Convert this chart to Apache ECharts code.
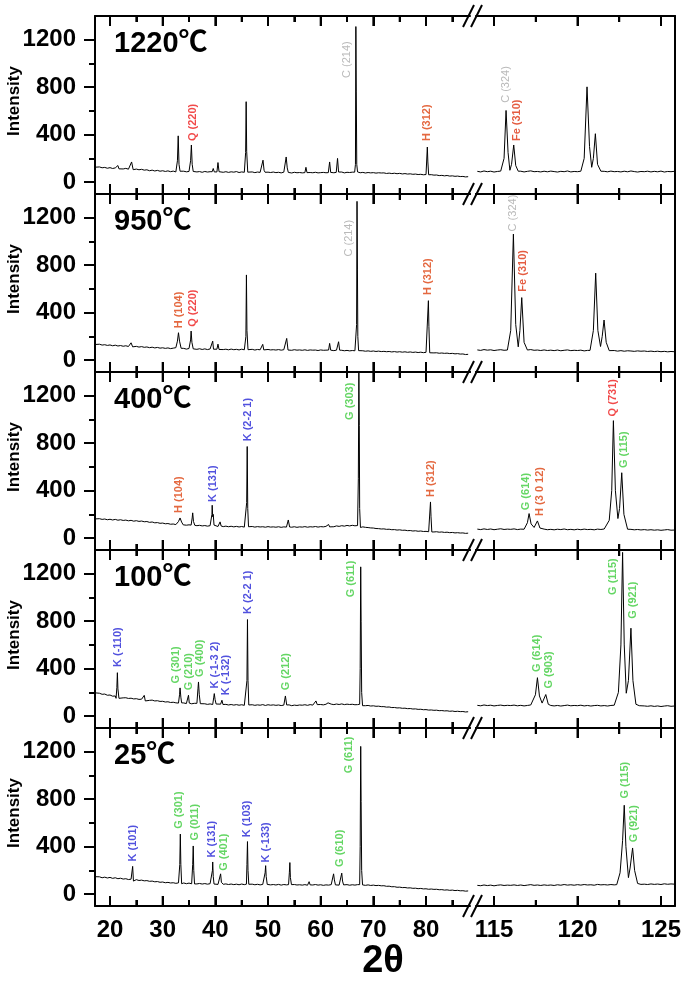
<!DOCTYPE html>
<html><head><meta charset="utf-8">
<script src="https://cdn.jsdelivr.net/npm/echarts@6/dist/echarts.min.js"></script>
<style>html,body{margin:0;padding:0;background:#fff}#c{width:685px;height:981px}</style>
</head><body><div id="c"></div>
<script>
// ---------- axis ticks ----------
const panelTitles = ['1220℃','950℃','400℃','100℃','25℃'];
const xLeftTicks = [20,30,40,50,60,70,80];
const xLeftMinor = [25,35,45,55,65,75,85];
const xRightTicks = [115,120,125];
const xRightMinor = [117.5,122.5];
const yTicks = [0,400,800,1200];
const yMinor = [200,600,1000];

// ---------- sampling positions (2θ) of the background scans ----------
const leftX = [17.2,17.5,18,18.5,19,19.5,20,20.5,21,21.5,
22,22.5,23,23.5,24,24.5,25,25.5,26,26.5,
27,27.5,28,28.5,29,29.5,30,30.5,31,31.5,
32,32.5,33,33.5,34,34.5,35,35.5,36,36.5,
37,37.5,38,38.5,39,39.5,40,40.5,41,41.5,
42,42.5,43,43.5,44,44.5,45,45.5,46,46.5,
47,47.5,48,48.5,49,49.5,50,50.5,51,51.5,
52,52.5,53,53.5,54,54.5,55,55.5,56,56.5,
57,57.5,58,58.5,59,59.5,60,60.5,61,61.5,
62,62.5,63,63.5,64,64.5,65,65.5,66,66.5,
67,67.5,68,68.5,69,69.5,70,70.5,71,71.5,
72,72.5,73,73.5,74,74.5,75,75.5,76,76.5,
77,77.5,78,78.5,79,79.5,80,80.5,81,81.5,
82,82.5,83,83.5,84,84.5,85,85.5,86,86.5,
87,87.5,88];
const rightX = [114,114.2,114.4,114.6,114.8,115,115.2,115.4,115.6,115.8,
116,116.2,116.4,116.6,116.8,117,117.2,117.4,117.6,117.8,
118,118.2,118.4,118.6,118.8,119,119.2,119.4,119.6,119.8,
120,120.2,120.4,120.6,120.8,121,121.2,121.4,121.6,121.8,
122,122.2,122.4,122.6,122.8,123,123.2,123.4,123.6,123.8,
124,124.2,124.4,124.6,124.8,125,125.2,125.4,125.6,125.8];

// ---------- 1220 ℃ ----------
const base1220L = [126,119,128,121,124,117,122,115,120,113,
118,111,116,109,113,106,110,104,108,101,
104,96,101,94,99,92,96,90,95,88,
93,86,91,85,92,87,90,84,91,86,
89,83,90,85,88,82,89,84,87,83,
88,82,87,84,89,81,86,83,87,82,
86,80,85,82,87,79,84,81,85,80,
83,78,84,80,82,77,83,79,81,78,
82,77,81,79,83,78,80,82,79,81,
84,79,82,80,85,78,83,81,84,80,
83,79,82,77,81,78,80,76,79,77,
78,73,76,72,75,71,74,69,72,68,
70,66,68,64,66,62,64,60,63,59,
60,55,57,53,56,51,53,49,51,47,
48,44,46];
const base1220R = [91,86,94,88,92,85,90,93,87,91,
89,94,87,92,86,91,95,88,90,86,
92,87,93,89,85,91,88,94,86,90,
88,93,87,90,86,92,89,85,91,87,
93,88,90,86,92,87,94,89,85,90,
88,92,86,91,87,93,85,90,88,91];
const peaks1220L = [
 [[21.3,118],[21.5,140],[21.7,112]],
 [[23.8,110],[24.1,170],[24.4,105]],
 [[32.6,95],[32.8,180],[32.95,390],[33.1,150],[33.3,92]],
 [[35.1,92],[35.3,180],[35.45,313],[35.6,150],[35.8,90]],
 [[39.4,88],[39.6,115],[39.8,86]],
 [[40.3,86],[40.5,165],[40.7,88]],
 [[45.55,86],[45.75,250],[45.85,678],[45.95,260],[46.15,84]],
 [[48.85,85],[49.05,185],[49.25,100],[49.45,83]],
 [[53.2,84],[53.45,212],[53.65,120],[53.85,82]],
 [[57.0,80],[57.2,125],[57.4,80]],
 [[61.45,80],[61.7,170],[61.9,82]],
 [[62.95,82],[63.2,200],[63.4,85]],
 [[66.45,84],[66.6,150],[66.68,1311],[66.76,760],[66.85,150],[67.0,86]],
 [[80.1,66],[80.25,296],[80.35,170],[80.5,62]]];
const peaks1220R = [
 [[115.45,92],[115.6,200],[115.72,604],[115.84,250],[115.95,100],[116.05,150],[116.18,313],[116.3,140],[116.45,92]],
 [[120.2,92],[120.4,200],[120.57,803],[120.72,300],[120.85,125],[120.95,200],[121.07,408],[121.2,150],[121.4,92]]];
const labels1220 = [[35.7,346,'Q (220)'],[64.9,878,'C (214)'],[80.2,346,'H (312)'],[115.7,668,'C (324)'],[116.36,346,'Fe (310)']];

// ---------- 950 ℃ ----------
const base950L = [132,126,134,127,130,124,128,121,126,119,
123,117,121,115,119,112,116,110,114,108,
111,105,109,103,107,101,104,99,103,97,
101,96,100,94,99,93,98,92,97,91,
96,90,95,89,94,91,93,88,94,89,
92,87,93,88,91,86,92,87,90,86,
91,85,90,87,89,84,90,86,88,85,
89,84,88,85,87,83,88,84,86,83,
87,82,86,84,85,81,86,83,84,82,
85,80,84,81,83,79,82,78,81,79,
80,76,79,75,78,74,77,73,76,72,
74,71,73,69,72,68,71,67,70,66,
69,65,68,64,67,63,66,62,64,61,
62,58,60,57,59,55,57,53,55,51,
52,47,49];
const base950R = [86,82,89,84,87,81,85,88,83,86,
84,88,82,86,81,85,89,83,85,81,
86,81,84,80,85,79,83,86,80,83,
81,84,78,82,79,83,77,81,79,82,
78,81,76,80,75,79,77,74,78,75,
77,73,76,72,75,71,74,70,73,71];
const peaks950L = [
 [[23.7,118],[24.0,146],[24.3,112]],
 [[32.5,105],[32.8,160],[33.0,231],[33.2,160],[33.5,100]],
 [[35.1,100],[35.3,170],[35.4,245],[35.55,150],[35.8,95]],
 [[39.35,92],[39.5,160],[39.65,92]],
 [[40.3,92],[40.5,135],[40.7,90]],
 [[45.65,90],[45.8,200],[45.9,718],[46.0,250],[46.2,88]],
 [[48.8,88],[49.0,133],[49.2,86]],
 [[53.3,86],[53.55,183],[53.8,85]],
 [[61.5,85],[61.7,141],[61.9,84]],
 [[63.2,84],[63.4,155],[63.6,84]],
 [[66.7,85],[66.82,300],[66.9,1338],[66.98,760],[67.05,200],[67.2,80]],
 [[80.3,65],[80.45,501],[80.55,282],[80.7,62]]];
const peaks950R = [
 [[115.8,85],[116.0,250],[116.16,1062],[116.3,300],[116.45,112],[116.55,250],[116.66,527],[116.8,150],[117.0,85]],
 [[120.75,82],[120.95,250],[121.09,733],[121.22,250],[121.38,115],[121.48,200],[121.59,338],[121.72,150],[121.9,80]]];
const labels950 = [[33.1,268,'H (104)'],[35.8,281,'Q (220)'],[65.35,873,'C (214)'],[80.4,549,'H (312)'],[116.16,1085,'C (324)'],[116.75,577,'Fe (310)']];

// ---------- 400 ℃ ----------
const base400L = [162,156,164,158,161,155,159,153,158,151,
155,149,152,146,150,143,147,141,144,138,
140,133,136,129,131,125,127,121,123,117,
119,114,117,111,114,109,112,107,110,105,
108,103,106,101,105,99,103,98,102,97,
101,96,100,95,99,94,98,93,97,95,
98,93,97,94,96,92,97,93,95,92,
96,91,95,93,97,92,96,91,95,93,
97,92,96,94,98,93,97,95,99,96,
100,96,103,99,105,101,107,103,108,104,
106,98,95,91,89,86,85,81,80,77,
78,74,75,71,72,68,70,66,67,63,
64,60,62,58,60,56,57,54,56,52,
54,50,52,48,50,46,48,44,46,43,
44,40,42];
const base400R = [76,72,78,73,77,71,75,79,73,76,
74,78,72,76,71,75,79,73,75,71,
76,71,74,70,75,72,77,71,74,70,
75,71,76,72,74,70,76,73,77,74,
78,74,77,72,76,71,74,70,73,69,
72,68,71,67,70,66,69,72,67,68];
const peaks400L = [
 [[32.7,115],[33.0,140],[33.3,170],[33.6,135],[33.9,112]],
 [[35.4,110],[35.6,170],[35.7,213],[35.85,140],[36.1,108]],
 [[39.2,105],[39.35,200],[39.4,277],[39.5,180],[39.6,200],[39.75,110]],
 [[40.7,103],[40.9,137],[41.1,102]],
 [[45.8,98],[45.95,300],[46.05,772],[46.15,250],[46.3,96]],
 [[53.6,96],[53.85,153],[54.1,94]],
 [[61.3,95],[61.5,115],[61.7,95]],
 [[67.05,110],[67.15,500],[67.25,1395],[67.33,950],[67.4,250],[67.55,90]],
 [[80.7,55],[80.85,305],[80.95,180],[81.1,52]]];
const peaks400R = [
 [[116.8,75],[117.0,130],[117.1,207],[117.22,120],[117.4,90],[117.6,145],[117.75,85]],
 [[121.7,78],[121.9,150],[122.05,400],[122.15,990],[122.27,400],[122.42,165],[122.52,250],[122.65,551],[122.78,200],[123.0,75]]];
const labels400 = [[33.1,212,'H (104)'],[39.6,305,'K (131)'],[46.25,816,'K (2-2 1)'],[65.5,996,'G (303)'],[80.85,347,'H (312)'],[116.9,235,'G (614)'],[117.75,187,'H (3 0 12)'],[122.1,1026,'Q (731)'],[122.8,590,'G (115)']];

// ---------- 100 ℃ ----------
const base100L = [196,188,193,184,186,176,178,168,170,162,
158,154,155,149,151,145,147,141,143,137,
139,133,135,128,130,124,125,119,121,115,
117,112,114,108,111,106,109,104,108,103,
106,101,104,99,103,98,102,97,101,96,
99,94,98,93,97,92,96,91,97,93,
96,91,95,92,97,90,96,92,95,91,
94,89,93,90,95,88,93,90,94,92,
96,91,97,93,99,94,98,95,100,96,
101,97,102,98,103,97,101,98,100,96,
97,94,92,88,90,85,87,83,84,80,
80,76,77,72,73,69,70,66,67,63,
64,60,61,57,58,54,55,51,52,49,
50,46,47,44,45,41,43,39,41,38,
39,35,37];
const base100R = [91,87,94,89,92,86,90,93,88,91,
89,93,87,91,86,90,94,88,90,87,
92,88,91,86,90,85,89,93,87,90,
88,92,86,90,85,89,91,86,89,85,
90,86,89,85,88,84,87,90,85,88,
86,83,87,82,86,81,85,88,83,85];
const peaks100L = [
 [[21.15,150],[21.3,240],[21.4,366],[21.5,230],[21.7,150]],
 [[26.3,130],[26.5,175],[26.7,128]],
 [[33.0,110],[33.2,180],[33.3,238],[33.45,160],[33.6,112]],
 [[34.75,112],[34.9,176],[35.05,110]],
 [[36.5,108],[36.7,230],[36.8,288],[36.95,180],[37.15,105]],
 [[39.55,105],[39.7,160],[39.8,190],[39.95,140],[40.15,102]],
 [[41.05,100],[41.25,134],[41.45,98]],
 [[45.85,96],[46.0,300],[46.1,814],[46.2,300],[46.35,94]],
 [[53.05,95],[53.3,170],[53.55,94]],
 [[58.85,96],[59.1,128],[59.35,97]],
 [[61.2,98],[61.4,112],[61.6,98]],
 [[67.4,100],[67.5,400],[67.6,1258],[67.68,800],[67.78,200],[67.95,88]]];
const peaks100R = [
 [[117.3,90],[117.48,180],[117.6,324],[117.72,170],[117.88,110],[118.1,182],[118.25,100],[118.4,90]],
 [[122.2,92],[122.45,200],[122.6,600],[122.7,1380],[122.8,600],[122.92,193],[123.05,300],[123.2,741],[123.32,300],[123.5,100],[123.7,88]]];
const labels100 = [[21.6,414,'K (-110)'],[32.5,274,'G (301)'],[34.9,218,'G (210)'],[37.0,330,'G (400)'],[39.9,232,'K (-1-3 2)'],[42.0,176,'K (-132)'],[46.25,861,'K (2-2 1)'],[53.4,218,'G (212)'],[65.7,1001,'G (611)'],[117.55,372,'G (614)'],[118.3,232,'G (903)'],[122.1,1021,'G (115)'],[123.3,820,'G (921)']];

// ---------- 25 ℃ ----------
const base25L = [147,139,146,138,143,136,141,133,138,130,
134,127,130,123,126,119,122,115,118,112,
114,108,110,104,106,100,102,96,99,94,
96,91,95,89,94,88,93,87,91,86,
90,85,89,84,88,83,87,82,86,83,
86,81,85,80,84,79,85,80,83,79,
84,79,83,78,82,77,83,78,81,77,
82,76,81,78,80,75,81,77,79,76,
80,75,79,77,81,76,79,74,78,76,
80,75,79,76,81,77,80,75,79,76,
80,77,79,74,78,73,76,72,74,70,
71,66,67,62,63,58,59,55,56,52,
53,49,50,46,48,44,45,41,43,40,
41,37,38,34,36,32,34,30,32,28,
29,25,27];
const base25R = [74,71,77,72,76,70,75,78,73,76,
74,78,73,77,72,76,80,74,77,73,
78,74,77,73,79,75,81,76,79,75,
80,76,81,77,79,75,82,78,80,77,
81,78,82,79,83,80,84,81,85,82,
84,81,86,82,85,81,87,83,86,84];
const peaks25L = [
 [[24.1,115],[24.3,234],[24.45,110]],
 [[33.1,90],[33.25,250],[33.35,506],[33.45,250],[33.6,88]],
 [[35.55,88],[35.7,250],[35.8,406],[35.9,200],[36.05,86]],
 [[39.3,86],[39.45,200],[39.5,271],[39.6,150],[39.75,85]],
 [[40.85,88],[41.0,171],[41.15,100],[41.3,90]],
 [[45.9,84],[46.0,250],[46.1,443],[46.2,200],[46.35,83]],
 [[49.3,82],[49.45,180],[49.55,240],[49.65,150],[49.85,82]],
 [[53.9,80],[54.05,180],[54.15,266],[54.25,140],[54.45,80]],
 [[57.6,80],[57.8,105],[58.0,78]],
 [[62.25,78],[62.45,171],[62.6,120],[62.8,78]],
 [[63.8,80],[64.0,177],[64.15,110],[64.35,78]],
 [[67.4,80],[67.5,400],[67.6,1245],[67.68,780],[67.78,200],[67.95,78]]];
const peaks25R = [
 [[122.35,80],[122.55,180],[122.7,450],[122.8,749],[122.9,400],[123.05,139],[123.15,220],[123.3,389],[123.42,200],[123.6,90],[123.8,82]]];
const labels25 = [[24.4,275,'K (101)'],[33.1,551,'G (301)'],[36.1,451,'G (011)'],[39.3,309,'K (131)'],[41.6,196,'G (401)'],[46.05,479,'K (103)'],[49.7,266,'K (-133)'],[63.6,229,'G (610)'],[65.4,1019,'G (611)'],[122.84,806,'G (115)'],[123.4,437,'G (921)']];

// ---------- styling ----------
const phaseColor = {Q:'#ee1c1c', H:'#dd4411', Fe:'#dd3311', C:'#a8a8a8', K:'#2626d6', G:'#3dcc3d'};
const FONT = "'Liberation Sans', Arial, sans-serif";

const panels = [
  {bl:base1220L, br:base1220R, pl:peaks1220L, pr:peaks1220R, lab:labels1220},
  {bl:base950L, br:base950R, pl:peaks950L, pr:peaks950R, lab:labels950},
  {bl:base400L, br:base400R, pl:peaks400L, pr:peaks400R, lab:labels400},
  {bl:base100L, br:base100R, pl:peaks100L, pr:peaks100R, lab:labels100},
  {bl:base25L, br:base25R, pl:peaks25L, pr:peaks25R, lab:labels25}
];

function buildLine(xs, ys, peaks) {
  const pts = [];
  xs.forEach((x, i) => {
    const inside = peaks.some(g => x >= g[0][0] && x <= g[g.length-1][0]);
    if (!inside) pts.push([x, ys[i]]);
  });
  peaks.forEach(g => g.forEach(p => pts.push(p)));
  pts.sort((a, b) => a[0] - b[0]);
  return pts;
}

const L = 95, LR = 470, RL = 476, RR = 675, H = 178;
const tops = [16, 194, 372, 550, 728];
const xMinL = 17.15, xMaxL = 88.35, xMinR = 113.92, xMaxR = 125.84;
const yMin = -100, yMax = 1400;

const grid = [], xAxis = [], yAxis = [], series = [], graphic = [];
const numFmt = v => String(v);

function xa(g, pos, min, max, vals, len, line, labels) {
  return {type:'value', gridIndex:g, position:pos, min:min, max:max,
    axisLine:{show:line, onZero:false, lineStyle:{color:'#000', width:2}},
    axisTick:{show:true, inside:true, length:len, customValues:vals, lineStyle:{color:'#000', width:2}},
    axisLabel:{show:labels, customValues:vals, formatter:numFmt, margin:12, color:'#000', fontSize:24, fontWeight:'bold', fontFamily:FONT},
    splitLine:{show:false}};
}

// inward tick marks on top and bottom frame lines, placed through the axis scale
function tickSeries(xi, yi, major, minor) {
  return {type:'custom', xAxisIndex:xi, yAxisIndex:yi, silent:true, z:5, clip:false,
    data: major.map(v => [v, 10]).concat(minor.map(v => [v, 6])),
    renderItem: (params, api) => {
      const v = api.value(0), len = api.value(1);
      const b = api.coord([v, yMin]), t = api.coord([v, yMax]);
      return {type:'group', children:[
        {type:'line', shape:{x1:b[0], y1:b[1], x2:b[0], y2:b[1]-len}, style:{stroke:'#000', lineWidth:2}},
        {type:'line', shape:{x1:t[0], y1:t[1], x2:t[0], y2:t[1]+len}, style:{stroke:'#000', lineWidth:2}}]};
    }};
}

panels.forEach((p, i) => {
  const gl = 2*i, gr = 2*i+1;
  grid.push({left:L, top:tops[i], width:LR-L, height:H});
  grid.push({left:RL, top:tops[i], width:RR-RL, height:H});
  const last = i === 4;
  xAxis.push(xa(gl,'bottom',xMinL,xMaxL,xLeftTicks,10,true,last));
  xAxis.push(xa(gl,'bottom',xMinL,xMaxL,xLeftMinor,6,false,false));
  xAxis.push(xa(gl,'top',xMinL,xMaxL,xLeftTicks,10,true,false));
  xAxis.push(xa(gl,'top',xMinL,xMaxL,xLeftMinor,6,false,false));
  xAxis.push(xa(gr,'bottom',xMinR,xMaxR,xRightTicks,10,true,last));
  xAxis.push(xa(gr,'bottom',xMinR,xMaxR,xRightMinor,6,false,false));
  xAxis.push(xa(gr,'top',xMinR,xMaxR,xRightTicks,10,true,false));
  xAxis.push(xa(gr,'top',xMinR,xMaxR,xRightMinor,6,false,false));
  yAxis.push({type:'value', gridIndex:gl, position:'left', min:yMin, max:yMax,
    axisLine:{show:true, onZero:false, lineStyle:{color:'#000', width:2}},
    axisTick:{show:true, inside:false, length:11, customValues:yTicks, lineStyle:{color:'#000', width:2}},
    axisLabel:{show:true, customValues:yTicks, formatter:numFmt, margin:19, color:'#000', fontSize:24, fontWeight:'bold', fontFamily:FONT},
    splitLine:{show:false}});
  yAxis.push({type:'value', gridIndex:gl, position:'left', min:yMin, max:yMax,
    axisLine:{show:false, onZero:false},
    axisTick:{show:true, inside:false, length:6, customValues:yMinor, lineStyle:{color:'#000', width:2}},
    axisLabel:{show:false}, splitLine:{show:false}});
  yAxis.push({type:'value', gridIndex:gr, position:'right', min:yMin, max:yMax,
    axisLine:{show:true, onZero:false, lineStyle:{color:'#000', width:2}},
    axisTick:{show:false}, axisLabel:{show:false}, splitLine:{show:false}});

  const lineStyle = {color:'#000', width:1};
  series.push({type:'line', xAxisIndex:8*i, yAxisIndex:3*i, data:buildLine(leftX, p.bl, p.pl),
    showSymbol:false, symbol:'none', lineStyle:lineStyle, z:3});
  series.push({type:'line', xAxisIndex:8*i+4, yAxisIndex:3*i+2, data:buildLine(rightX, p.br, p.pr),
    showSymbol:false, symbol:'none', lineStyle:lineStyle, z:3});
  series.push(tickSeries(8*i, 3*i, xLeftTicks, xLeftMinor));
  series.push(tickSeries(8*i+4, 3*i+2, xRightTicks, xRightMinor));

  const mk = arr => arr.map(l => {
    const ph = l[2].split(' ')[0];
    return {value:[l[0], l[1]], label:{formatter:l[2], color:phaseColor[ph], fontWeight: ph === 'C' ? 'normal' : 'bold'}};
  });
  const labBase = {show:true, position:'inside', rotate:90, align:'left', verticalAlign:'middle', fontSize:11, fontFamily:FONT};
  series.push({type:'scatter', xAxisIndex:8*i, yAxisIndex:3*i, symbolSize:1, itemStyle:{color:'rgba(0,0,0,0)'},
    label:labBase, data:mk(p.lab.filter(l => l[0] < 100)), z:4, silent:true});
  series.push({type:'scatter', xAxisIndex:8*i+4, yAxisIndex:3*i+2, symbolSize:1, itemStyle:{color:'rgba(0,0,0,0)'},
    label:labBase, data:mk(p.lab.filter(l => l[0] > 100)), z:4, silent:true});

  // panel title
  graphic.push({type:'text', left:114, top:tops[i]+13,
    style:{text:panelTitles[i], font:"bold 29px 'Liberation Sans','Noto Sans CJK SC',sans-serif", fill:'#000'}});
  // Intensity
  graphic.push({type:'text', x:14, y:tops[i]+85, rotation:Math.PI/2,
    style:{text:'Intensity', font:"bold 17px 'Liberation Sans', Arial, sans-serif", fill:'#000', align:'center', verticalAlign:'middle'}});
});

// axis break marks
[16,194,372,550,728,906].forEach(y => {
  graphic.push({type:'line', shape:{x1:463, y1:y+11, x2:474, y2:y-11}, style:{stroke:'#000', lineWidth:2}, z:100});
  graphic.push({type:'line', shape:{x1:471, y1:y+11, x2:482, y2:y-11}, style:{stroke:'#000', lineWidth:2}, z:100});
});
graphic.push({type:'text', x:383, y:962,
  style:{text:'2θ', font:"bold 38px 'Liberation Sans', Arial, sans-serif", fill:'#000', align:'center', verticalAlign:'middle'}});

const chart = echarts.init(document.getElementById('c'), null, {renderer:'canvas'});
chart.setOption({animation:false, backgroundColor:'#fff', grid:grid, xAxis:xAxis, yAxis:yAxis, series:series, graphic:graphic});
</script></body></html>
